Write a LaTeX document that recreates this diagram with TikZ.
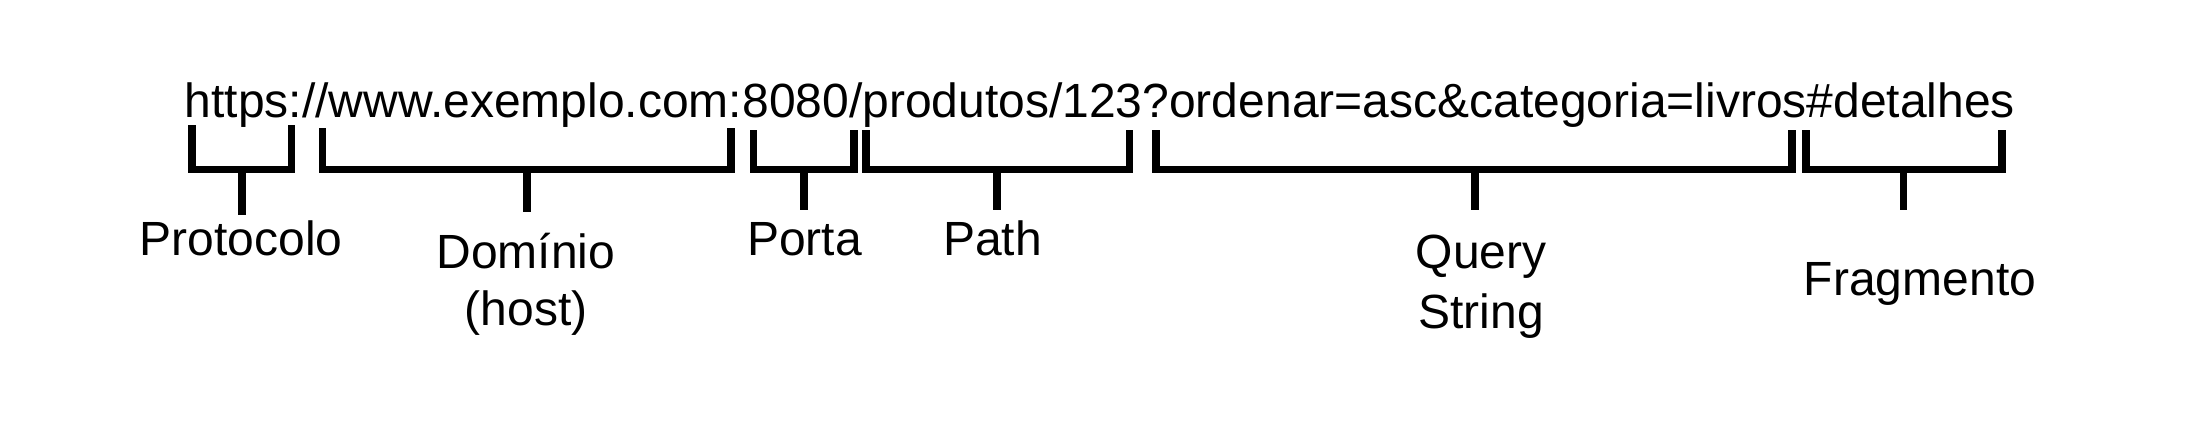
\documentclass[tikz,border=0pt]{standalone}
\usepackage{fontspec}
\setmainfont{Liberation Sans}
\begin{document}
\begin{tikzpicture}[x=1pt,y=-1pt,
  brk/.style={line width=7.4pt,line join=miter,line cap=butt,draw=black},
  lbl/.style={inner sep=0pt,anchor=base,font=\fontsize{48}{57}\selectfont},
  lbltwo/.style={inner sep=0pt,anchor=base,font=\fontsize{48}{60}\selectfont}]
\useasboundingbox[fill=white] (0,0) rectangle (2200,424);
% URL
\node[lbl] (url) at (1100,117) {https://www.exemplo.com:8080/produtos/123?ordenar=asc\&categoria=livros\#detalhes};
% bracket coordinates
\def\bar{169.5}
% Protocolo
\coordinate (pa) at (192,125);
\coordinate (pb) at (291.5,125);
\coordinate (pm) at (242,\bar);
\coordinate (pe) at (242,215);
\draw[brk] (pa) |- (pb |- pm) -- (pb);
\draw[brk] (pm) -- (pe);
% Dominio
\coordinate (da) at (322.5,128);
\coordinate (db) at (731,128);
\coordinate (dm) at (527,\bar);
\coordinate (de) at (527,212);
\draw[brk] (da) |- (db |- dm) -- (db);
\draw[brk] (dm) -- (de);
% Porta
\coordinate (oa) at (753.5,130);
\coordinate (ob) at (854,130);
\coordinate (om) at (804,\bar);
\coordinate (oe) at (804,210);
\draw[brk] (oa) |- (ob |- om) -- (ob);
\draw[brk] (om) -- (oe);
% Path
\coordinate (ta) at (866,130);
\coordinate (tb) at (1129.5,130);
\coordinate (tm) at (997,\bar);
\coordinate (te) at (997,210);
\draw[brk] (ta) |- (tb |- tm) -- (tb);
\draw[brk] (tm) -- (te);
% Query
\coordinate (qa) at (1156,130);
\coordinate (qb) at (1792,130);
\coordinate (qm) at (1475,\bar);
\coordinate (qe) at (1475,210);
\draw[brk] (qa) |- (qb |- qm) -- (qb);
\draw[brk] (qm) -- (qe);
% Fragmento
\coordinate (fa) at (1806,130);
\coordinate (fb) at (2002,130);
\coordinate (fm) at (1903.5,\bar);
\coordinate (fe) at (1903.5,210);
\draw[brk] (fa) |- (fb |- fm) -- (fb);
\draw[brk] (fm) -- (fe);
% labels
\node[lbl] (lprot) at (241,255) {Protocolo};
\node[lbl] (ldom) at (526,268) {\begin{tabular}[t]{@{}c@{}}Domínio\\(host)\end{tabular}};
\node[lbl] (lport) at (804.5,255) {Porta};
\node[lbl] (lpath) at (992.5,255) {Path};
\node[lbltwo] (lquery) at (1481,268) {\begin{tabular}[t]{@{}c@{}}Query\\String\end{tabular}};
\node[lbl] (lfrag) at (1920,295) {Fragmento};
\end{tikzpicture}
\end{document}
